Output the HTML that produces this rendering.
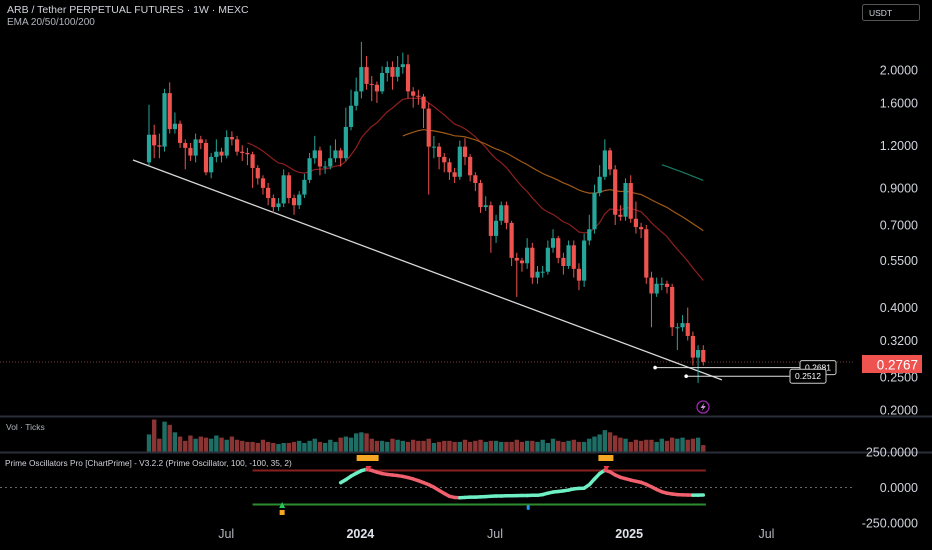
<!DOCTYPE html>
<html><head><meta charset="utf-8">
<style>
html,body{margin:0;padding:0;background:#000;width:932px;height:550px;overflow:hidden;font-family:"Liberation Sans",sans-serif;}
svg{display:block}
</style></head>
<body>
<svg id="chart" width="932" height="550" viewBox="0 0 932 550" xmlns="http://www.w3.org/2000/svg">
<rect x="0" y="0" width="932" height="550" fill="#000"/>
<text x="7" y="13" fill="#d1d4dc" font-size="10.5">ARB / Tether PERPETUAL FUTURES · 1W · MEXC</text>
<text x="7" y="25" fill="#b2b5be" font-size="10">EMA 20/50/100/200</text>
<g>
<rect x="862.5" y="4.5" width="57" height="16" rx="2" fill="#000" stroke="#555"/>
<text x="869" y="16" fill="#d1d4dc" font-size="8.5">USDT</text>
</g>
<line x1="0" y1="416.5" x2="932" y2="416.5" stroke="#2a2e39" stroke-width="2"/>
<line x1="0" y1="452.5" x2="932" y2="452.5" stroke="#2a2e39" stroke-width="2"/>
<text x="6" y="430" fill="#b2b5be" font-size="8.5">Vol · Ticks</text>
<text x="5" y="466" fill="#d1d4dc" font-size="8.3">Prime Oscillators Pro [ChartPrime] - V3.2.2 (Prime Oscillator, 100, -100, 35, 2)</text>
<g id="gPrice"></g><g id="gVol"></g><g id="gOsc"></g><g id="gAxis"></g>
</svg>
<script>
const closes=[1.29,1.20,1.19,1.71,1.34,1.39,1.22,1.18,1.12,1.25,1.22,1.00,1.11,1.15,1.12,1.27,1.25,1.15,1.14,1.13,1.03,0.96,0.90,0.84,0.79,0.81,0.98,0.84,0.80,0.86,0.95,1.10,1.16,1.04,1.04,1.10,1.16,1.10,1.36,1.57,1.73,2.04,1.82,1.81,1.73,1.96,2.04,1.91,2.04,2.08,1.73,1.68,1.67,1.54,1.19,1.19,1.11,1.07,1.00,0.97,1.19,1.11,0.98,0.93,0.79,0.80,0.65,0.72,0.80,0.71,0.56,0.55,0.54,0.60,0.49,0.51,0.51,0.60,0.64,0.56,0.53,0.61,0.52,0.48,0.63,0.68,0.87,0.97,1.16,1.02,0.75,0.74,0.93,0.73,0.69,0.68,0.49,0.44,0.47,0.47,0.46,0.35,0.35,0.36,0.33,0.285,0.30,0.2767];
const firstOpen=1.07;
const highs=[1.58,1.38,1.30,1.76,1.84,1.50,1.42,1.25,1.22,1.30,1.28,1.25,1.14,1.25,1.18,1.33,1.32,1.28,1.20,1.18,1.15,1.05,0.98,0.93,0.86,0.84,1.02,1.00,0.86,0.88,0.99,1.14,1.28,1.19,1.08,1.20,1.25,1.18,1.55,1.75,1.90,2.42,2.20,1.92,1.85,2.05,2.12,2.12,2.20,2.25,2.22,1.78,1.75,1.70,1.60,1.28,1.22,1.14,1.10,1.03,1.24,1.26,1.13,1.00,0.95,0.85,0.82,0.75,0.82,0.82,0.72,0.58,0.56,0.64,0.62,0.53,0.53,0.63,0.68,0.65,0.58,0.63,0.63,0.54,0.66,0.75,0.92,1.05,1.25,1.18,1.05,0.80,0.96,0.98,0.82,0.71,0.70,0.51,0.49,0.49,0.48,0.47,0.36,0.38,0.40,0.34,0.31,0.31];
const lows=[1.05,1.10,1.10,1.15,1.30,1.30,1.18,1.02,1.08,1.07,1.17,0.98,0.96,1.07,1.07,1.10,1.20,1.12,1.08,1.05,0.90,0.92,0.86,0.80,0.76,0.77,0.79,0.81,0.75,0.78,0.84,0.93,1.06,0.98,0.99,1.02,1.07,1.04,1.08,1.33,1.52,1.65,1.75,1.62,1.60,1.70,1.85,1.75,1.85,1.95,1.65,1.55,1.58,1.35,0.86,1.10,1.02,1.00,0.95,0.93,0.95,1.05,0.94,0.88,0.76,0.77,0.58,0.62,0.70,0.68,0.53,0.43,0.51,0.52,0.47,0.47,0.49,0.50,0.58,0.54,0.50,0.52,0.49,0.45,0.46,0.61,0.66,0.85,0.95,0.98,0.70,0.72,0.72,0.71,0.66,0.64,0.47,0.35,0.43,0.45,0.44,0.33,0.30,0.34,0.32,0.27,0.24,0.27];
const volumes=[16,30,12,28,25,18,14,10,15,12,14,13,12,15,13,11,14,11,10,9,9,8,11,9,8,7,8,8,9,10,8,10,12,9,8,11,9,13,14,13,17,18,17,12,10,10,9,12,11,10,9,11,10,10,12,8,9,10,10,9,9,11,9,10,11,9,10,10,9,9,9,11,9,10,10,9,11,8,12,10,9,10,11,9,9,12,14,16,20,18,15,13,12,9,11,10,11,11,9,12,10,13,12,13,11,12,13,6];
const priceTicks=[2,1.6,1.2,0.9,0.7,0.55,0.4,0.32,0.25,0.2];
const timeLabels=['Jul','2024','Jul','2025','Jul'];
const timeIndex=[14.9,40.8,66.8,92.7,119.2];
const oscStart=37;
const oscValues=[34,55,80,100,118,128,120,108,98,92,88,84,78,70,60,48,34,20,2,-20,-42,-62,-70,-72,-70,-68,-68,-66,-64,-62,-60,-60,-58,-58,-57,-56,-56,-55,-55,-50,-40,-32,-28,-24,-18,-10,-6,-5,20,60,98,122,110,88,72,62,52,44,36,22,5,-14,-30,-40,-46,-50,-52,-53,-54,-54,-53];
const oscTicks=[250,0,-250];
const oscLevels=[120,-120];
const trendIdx=[-3.1,110.6];
const trendPrice=[1.087,0.245];
const levelPrices=[0.2681,0.2512];
const levelStartIdx=[97.7,103.7];
const emaPeriods=[20,50,100];
const emaColors=['#8e1f1f','#a05a17','#1b7a64'];

const NS='http://www.w3.org/2000/svg';
function X(i){return 149+i*5.18;}
function Y(p){return 70+(Math.log(2)-Math.log(p))*147.6;}
function OY(v){return 487.5-v*0.142;}
function VY(v){return 451.5-v*(32/30);}
function mk(tag,attrs,parent){const e=document.createElementNS(NS,tag);for(const k in attrs)e.setAttribute(k,attrs[k]);parent.appendChild(e);return e;}
const gP=document.getElementById('gPrice'),gV=document.getElementById('gVol'),gO=document.getElementById('gOsc'),gA=document.getElementById('gAxis');
const GREEN='#26a69a',RED='#ef5350';

let lpl=mk('line',{x1:0,x2:855,y1:Y(closes[closes.length-1]),y2:Y(closes[closes.length-1]),stroke:'#7a3a3a','stroke-dasharray':'1 2','stroke-width':1},gP);



let tl=mk('line',{x1:X(trendIdx[0]),y1:Y(trendPrice[0]),x2:X(trendIdx[1]),y2:Y(trendPrice[1]),stroke:'#d8d8d8','stroke-width':1.3},gP);



emaPeriods.forEach((per,k)=>{
  if(closes.length<per)return;
  let s=0;for(let i=0;i<per;i++)s+=closes[i];
  let e=s/per;const a=2/(per+1);let pts=[[per-1,e]];
  for(let i=per;i<closes.length;i++){e=closes[i]*a+e*(1-a);pts.push([i,e]);}
  const p=mk('polyline',{points:pts.map(q=>X(q[0]).toFixed(1)+','+Y(q[1]).toFixed(1)).join(' '),fill:'none',stroke:emaColors[k],'stroke-width':1.2},gP);
  
  
});

closes.forEach((c,i)=>{
  const o=i===0?firstOpen:closes[i-1];
  const col=c>=o?GREEN:RED;
  const x=X(i);
  const g=mk('g',{},gP);
  
  
  mk('line',{x1:x,x2:x,y1:Y(highs[i]),y2:Y(lows[i]),stroke:col,'stroke-width':1},g);
  const y1=Y(Math.max(o,c)),y2=Y(Math.min(o,c));
  mk('rect',{x:x-2.1,y:y1,width:4.2,height:Math.max(1,y2-y1),fill:col},g);
  const v=mk('rect',{x:x-2.2,y:VY(volumes[i]),width:4.4,height:451.5-VY(volumes[i]),fill:c>=o?'#1f6e66':'#8a3434'},gV);
  
  
});

levelPrices.forEach((p,k)=>{
  const y=Y(p)+ (k===0?1:0);
  const x0=X(levelStartIdx[k]);
  const g=mk('g',{},gP);
  
  
  const bx=k===0?800:790;
  mk('line',{x1:x0,x2:bx,y1:y,y2:y,stroke:'#e0e0e0','stroke-width':1},g);
  mk('circle',{cx:x0,cy:y,r:1.8,fill:'#fff'},g);
  mk('rect',{x:bx,y:y-7,width:36,height:14,rx:2,fill:'#000',stroke:'#ccc','stroke-width':1},g);
  const t=mk('text',{x:bx+18,y:y+3,'text-anchor':'middle',fill:'#fff','font-size':8.5},g);t.textContent=p.toFixed(4);
});

priceTicks.forEach(p=>{
  const t=mk('text',{x:918,y:Y(p)+4.5,'text-anchor':'end',fill:'#d1d4dc','font-size':12.5},gA);
  t.textContent=p.toFixed(4);
  
  
});
const lp=closes[closes.length-1];
const lg=mk('g',{},gA);


mk('rect',{x:862,y:355,width:60,height:18,fill:'#ef5350'},lg);
const lt=mk('text',{x:918,y:369.5,'text-anchor':'end',fill:'#fff','font-size':13.5},lg);lt.textContent=lp.toFixed(4);

const ic=mk('g',{},gA);


mk('circle',{cx:703,cy:407,r:6,fill:'none',stroke:'#9c27b0','stroke-width':1.3},ic);
mk('path',{d:'M704.5 402.5 L700.5 408 L703 408 L701.5 411.5 L705.8 406 L703.2 406 Z',fill:'#ce93d8'},ic);

oscLevels.forEach((v,k)=>{
  const l=mk('line',{x1:X(20),x2:X(107.5),y1:OY(v),y2:OY(v),stroke:k===0?'#8a1f1f':'#2e8b2e','stroke-width':2},gO);
  
  
});
const zl=mk('line',{x1:0,x2:855,y1:OY(0),y2:OY(0),stroke:'#666','stroke-dasharray':'2 3'},gO);


for(let j=1;j<oscValues.length;j++){
  const up=oscValues[j]>=oscValues[j-1];
  const s=mk('line',{x1:X(oscStart+j-1),y1:OY(oscValues[j-1]),x2:X(oscStart+j),y2:OY(oscValues[j]),stroke:up?'#6ff0c4':'#f0606e','stroke-width':3.5,'stroke-linecap':'round'},gO);
  
  
}
oscTicks.forEach(v=>{
  const t=mk('text',{x:918,y:OY(v)+4.5,'text-anchor':'end',fill:'#d1d4dc','font-size':12.5},gA);
  t.textContent=v.toFixed(4);
  
  
});
const mg=mk('g',{},gO);


[[42.4],[88.3]].forEach(m=>{const x=X(m[0]);
  mk('rect',{x:x-(m[0]<50?12:8),y:455,width:m[0]<50?22:15,height:6,fill:'#f5a623'},mg);
  mk('path',{d:`M${x-3} 466 L${x+3} 466 L${x} 471 Z`,fill:'#f23645'},mg);});
const gx=X(25.7);
mk('path',{d:`M${gx-3} 508 L${gx+3} 508 L${gx} 502 Z`,fill:'#22c55e'},mg);
mk('rect',{x:gx-2.5,y:510,width:5,height:5,fill:'#f5a623'},mg);
mk('rect',{x:X(73.2)-1.5,y:505,width:3,height:5,rx:1.5,fill:'#2196f3'},mg);

timeLabels.forEach((s,k)=>{
  const yr=/^\d{4}$/.test(s);
  const t=mk('text',{x:X(timeIndex[k]),y:538,'text-anchor':'middle',fill:yr?'#e0e3eb':'#b2b5be','font-size':12.5,'font-weight':yr?'bold':'normal'},gA);
  t.textContent=s;
  
  
});
</script>
</body></html>
